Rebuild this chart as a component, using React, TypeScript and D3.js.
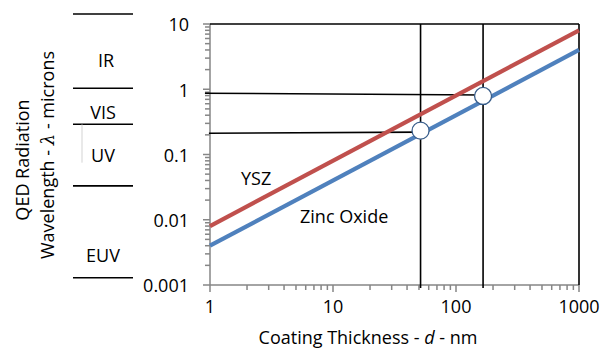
import React from 'react';
import * as d3 from 'd3';

// thickness (nm) endpoints for the two material lines
const thickness = [1, 1000];
const zincOxide = [0.004, 4];
const ysz = [0.008, 8];

// operating points marked on the zinc oxide line
const pointD = [51.5, 166];
const pointL = [0.232, 0.79];

// horizontal guide lines: start/end thickness and wavelength
const guideD0 = [0.91, 0.98];
const guideD1 = [166, 51.5];
const guideL0 = [0.868, 0.212];
const guideL1 = [0.818, 0.22];

// spectral band boundaries (microns) and labels
const bandEdges = [14.2, 1.036, 0.291, 0.033, 0.00129];
const bandNames = ['IR', 'VIS', 'UV', 'EUV'];
const bandMid = [2.7, 0.434, 0.095, 0.0028];

const xTicks = [1, 10, 100, 1000];
const xTickLabels = ['1', '10', '100', '1000'];
const yTicks = [10, 1, 0.1, 0.01, 0.001];
const yTickLabels = ['10', '1', '0.1', '0.01', '0.001'];

const W = 600;
const H = 352;
const margin = { top: 24, right: 21, bottom: 67, left: 210 };

export default function App() {
    const innerW = W - margin.left - margin.right;
    const innerH = H - margin.top - margin.bottom;

    const x = d3.scaleLog().domain([1, 1000]).range([0, innerW]);
    const y = d3.scaleLog().domain([0.001, 10]).range([innerH, 0]);

    const line = d3.line<[number, number]>()
        .x(d => x(d[0]))
        .y(d => y(d[1]));

    // minor ticks for each decade
    const xMinor: number[] = [];
    [1, 10, 100].forEach(b => { for (let k = 2; k <= 9; k++) xMinor.push(b * k); });
    const yMinor: number[] = [];
    [0.001, 0.01, 0.1, 1].forEach(b => { for (let k = 2; k <= 9; k++) yMinor.push(b * k); });

    const font = '"Open Sans", sans-serif';
    const fs = 18;
    const axisColor = '#868686';

    return (
        <svg width={W} height={H} style={{ position: 'absolute', left: 0, top: 0, background: '#fff' }}
            fontFamily={font}>
            {/* y axis title */}
            <g transform={`translate(23, 160) rotate(-90)`}>
                <text textAnchor="middle" dy="0.35em" fontSize={fs}>QED Radiation</text>
            </g>
            <g transform={`translate(48, 155) rotate(-90)`}>
                <text textAnchor="middle" dy="0.35em" fontSize={fs}>
                    Wavelength - <tspan fontStyle="italic" fontFamily="DejaVu Serif">λ</tspan> - microns
                </text>
            </g>

            <g transform={`translate(${margin.left}, ${margin.top})`}>
                {/* band annotations left of the axis */}
                {bandEdges.map((v, i) => (
                    <line key={'be' + i} x1={-137} x2={-77} y1={y(v)} y2={y(v)}
                        stroke="#000" strokeWidth={1.6} />
                ))}
                {bandNames.map((n, i) => (
                    <text key={'bn' + i} x={-107 + (i < 1 ? 3 : 0)} y={y(bandMid[i])} dy="0.35em"
                        textAnchor="middle" fontSize={fs}>{n}</text>
                ))}
                <line x1={-128} x2={-128} y1={y(bandEdges[2])} y2={y(0.075)} stroke="#c8c8c8" strokeWidth={0.8} />

                {/* x axis */}
                <line x1={0} x2={innerW} y1={innerH} y2={innerH} stroke={axisColor} strokeWidth={1.5} />
                {xTicks.map(t => (
                    <line key={'xt' + t} x1={x(t)} x2={x(t)} y1={innerH} y2={innerH + 7} stroke={axisColor} strokeWidth={1.5} />
                ))}
                {xMinor.map(t => (
                    <line key={'xm' + t} x1={x(t)} x2={x(t)} y1={innerH} y2={innerH + 5} stroke={axisColor} strokeWidth={1.5} />
                ))}
                {xTicks.map((t, i) => (
                    <text key={'xl' + t} x={x(t)} y={innerH + 22} dy="0.35em" textAnchor="middle" fontSize={fs}>
                        {xTickLabels[i]}
                    </text>
                ))}
                <text x={368 - margin.left} y={344 - margin.top} textAnchor="middle" fontSize={fs}>
                    Coating Thickness - <tspan fontStyle="italic">d</tspan> - nm
                </text>

                {/* y axis */}
                <line x1={0} x2={0} y1={0} y2={innerH} stroke={axisColor} strokeWidth={1.5} />
                {yTicks.map(t => (
                    <line key={'yt' + t} x1={-7} x2={0} y1={y(t)} y2={y(t)} stroke={axisColor} strokeWidth={1.5} />
                ))}
                {yMinor.map(t => (
                    <line key={'ym' + t} x1={-5} x2={0} y1={y(t)} y2={y(t)} stroke={axisColor} strokeWidth={1.5} />
                ))}
                {yTicks.map((t, i) => (
                    <text key={'yl' + t} x={-21} y={y(t) + 1} dy="0.35em" textAnchor="end" fontSize={fs}>
                        {yTickLabels[i]}
                    </text>
                ))}

                {/* frame: top and right borders */}
                <line x1={0} x2={innerW} y1={0} y2={0} stroke="#000" strokeWidth={1.6} />
                <line x1={innerW} x2={innerW} y1={0} y2={innerH} stroke="#000" strokeWidth={1.6} />

                {/* vertical guides at operating thicknesses */}
                {pointD.map((d, i) => (
                    <line key={'vg' + i} x1={x(d)} x2={x(d)} y1={0} y2={innerH + 3} stroke="#000" strokeWidth={1.6} />
                ))}

                {/* horizontal guides */}
                {guideD0.map((d, i) => (
                    <line key={'hg' + i} x1={x(d)} x2={x(guideD1[i])} y1={y(guideL0[i])} y2={y(guideL1[i])}
                        stroke="#000" strokeWidth={1.6} />
                ))}

                {/* material lines */}
                <path d={line(thickness.map((t, i) => [t, ysz[i]] as [number, number])) || ''}
                    fill="none" stroke="#C0504D" strokeWidth={4.2} />
                <path d={line(thickness.map((t, i) => [t, zincOxide[i]] as [number, number])) || ''}
                    fill="none" stroke="#4F81BD" strokeWidth={4.2} />

                {/* operating points */}
                {pointD.map((d, i) => (
                    <circle key={'pt' + i} cx={x(d)} cy={y(pointL[i])} r={8.5}
                        fill="#fff" stroke="#385D8A" strokeWidth={1.3} />
                ))}

                <text x={241 - margin.left} y={185 - margin.top} fontSize={fs}>YSZ</text>
                <text x={300 - margin.left} y={223 - margin.top} fontSize={fs}>Zinc Oxide</text>
            </g>
        </svg>
    );
}
